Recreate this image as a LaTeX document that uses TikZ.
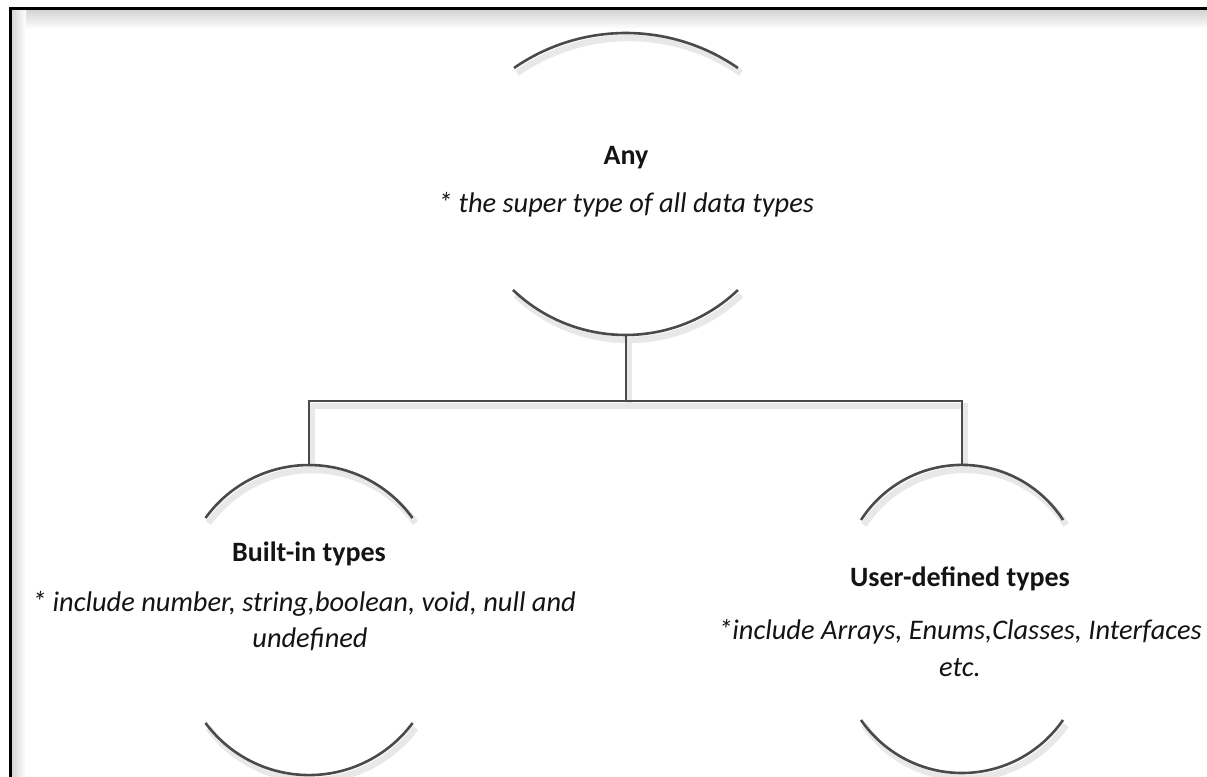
\documentclass[tikz,border=0pt]{standalone}
\usepackage{fontspec}
\setmainfont{Carlito}
\definecolor{linegray}{HTML}{4A4A4A}
\definecolor{txt}{HTML}{141414}
\tikzset{
  arcline/.style={draw=linegray, line width=1.3pt},
  shadowline/.style={draw=black!9, line width=3.2pt},
  link/.style={draw=linegray, line width=1.3pt},
  title/.style={font=\bfseries\fontsize{14}{17}\selectfont, text=txt, inner sep=0pt, anchor=base},
  desc/.style={font=\itshape\fontsize{14.2}{17}\selectfont, text=txt, inner sep=0pt, anchor=base},
}
\begin{document}
\begin{tikzpicture}[x=0.5pt,y=0.5pt]
\useasboundingbox (0,0) rectangle (1207,777);
\fill[white] (0,0) rectangle (1207,777);
% frame
\shade[top color=black!16, bottom color=white] (12,748) rectangle (1207,766);
\shade[left color=black!16, right color=white] (12,0) rectangle (26,766);
\draw[black, line width=1.5pt] (10,0) -- (10,768) -- (1207,768);

% shadows of lines
\begin{scope}[shift={(3,-5)}]
\draw[shadowline] (514,709) arc[start angle=124.7, end angle=55.3, radius=98.35pt];
\draw[shadowline] (513,487) arc[start angle=226.4, end angle=313.6, radius=81.55pt];
\draw[shadowline] (205.5,259) arc[start angle=144.2, end angle=35.8, radius=63.8pt];
\draw[shadowline] (205.5,54) arc[start angle=216.6, end angle=323.4, radius=64.5pt];
\draw[shadowline] (861,257) arc[start angle=147.2, end angle=32.8, radius=60.1pt];
\draw[shadowline] (861,57) arc[start angle=214.6, end angle=325.4, radius=61.35pt];
\draw[shadowline] (626,442) -- (626,376);
\draw[shadowline] (309,312) -- (309,376) -- (962,376) -- (962,312);
\end{scope}

% Any
\draw[arcline] (514,709) arc[start angle=124.7, end angle=55.3, radius=98.35pt];
\draw[arcline] (513,487) arc[start angle=226.4, end angle=313.6, radius=81.55pt];
\coordinate (anyB) at (626,442);
% Built-in
\draw[arcline] (205.5,259) arc[start angle=144.2, end angle=35.8, radius=63.8pt];
\draw[arcline] (205.5,54) arc[start angle=216.6, end angle=323.4, radius=64.5pt];
\coordinate (builtT) at (309,312);
% User-defined
\draw[arcline] (861,257) arc[start angle=147.2, end angle=32.8, radius=60.1pt];
\draw[arcline] (861,57) arc[start angle=214.6, end angle=325.4, radius=61.35pt];
\coordinate (userT) at (962,312);

% connectors
\coordinate (bus) at (626,376);
\draw[link] (anyB) -- (bus);
\draw[link] (builtT) -- (builtT |- bus) -- (userT |- bus) -- (userT);

% texts
\node[title] (anyTitle) at (626,612) {Any};
\node[desc] (anyDesc) at (626,564) {* the super type of all data types};
\node[title] (builtTitle) at (309,215) {Built-in types};
\node[desc] (builtDescA) at (304,165) {* include number, string,boolean, void, null and};
\node[desc] (builtDescB) at (310,129) {undefined};
\node[title] (userTitle) at (960,190) {User-defined types};
\node[desc] (userDescA) at (960,137) {*include Arrays, Enums,Classes, Interfaces};
\node[desc] (userDescB) at (960,100) {etc.};
\end{tikzpicture}
\end{document}
